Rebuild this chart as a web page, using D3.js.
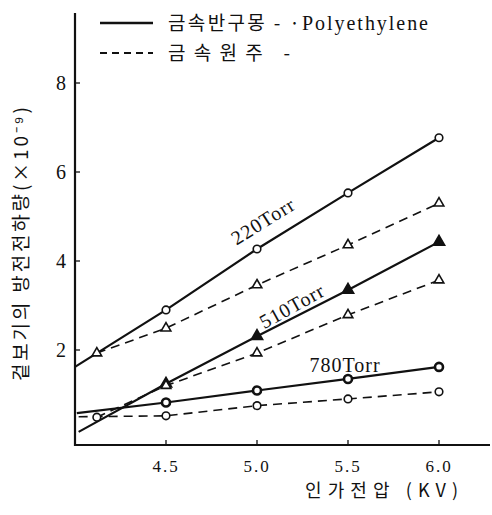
<!DOCTYPE html>
<html>
<head>
<meta charset="utf-8">
<script src="https://cdn.jsdelivr.net/npm/d3@7"></script>
<style>
  body { margin: 0; background: #fff; }
  svg { display: block; }
  text { fill: #111; }
  .num { font-family: "Liberation Serif", "DejaVu Serif", serif; }
  .kr { font-family: "Noto Sans CJK KR", sans-serif; font-weight: 400; }
</style>
</head>
<body>
<div id="chart"></div>
<script>
// applied voltage (KV)
const voltages = [4.5, 5.0, 5.5, 6.0];
const xTicks = [4.5, 5.0, 5.5, 6.0];
const yTicks = [2, 4, 6, 8];

// apparent discharge charge (x10^-9)
const solid220 = [2.9, 4.27, 5.53, 6.77];
const dash220 = [2.49, 3.46, 4.36, 5.30];
const solid510 = [1.24, 2.31, 3.35, 4.43];
const dash510 = [1.2, 1.93, 2.79, 3.57];
const solid780 = [0.82, 1.09, 1.35, 1.62];
const dash780 = [0.52, 0.75, 0.90, 1.06];

// where each fitted line starts at the left, and extra low-voltage points
const startPoints = {
  s220: [4.0, 1.62], d220: [4.12, 1.93],
  s510: [4.02, 0.16], d510: [4.12, 0.49],
  s780: [4.01, 0.58], d780: [4.02, 0.50]
};
const extraPoints = { d220: [[4.12, 1.93]], d780: [[4.12, 0.49]] };

const series = [
  {key: 's220', values: solid220, dash: false, marker: 'circle'},
  {key: 'd220', values: dash220, dash: true, marker: 'triangle'},
  {key: 's510', values: solid510, dash: false, marker: 'triFilled'},
  {key: 'd510', values: dash510, dash: true, marker: 'triangle'},
  {key: 's780', values: solid780, dash: false, marker: 'circleBold'},
  {key: 'd780', values: dash780, dash: true, marker: 'circle'}
];

const width = 492, height = 515;

const svg = d3.select('#chart').append('svg')
    .attr('width', width)
    .attr('height', height);

const x = d3.scaleLinear().domain([4.0, 6.0]).range([75, 439]);
const y = d3.scaleLinear().domain([0, 8]).range([439, 83]);

// axes frame
svg.append('line')
    .attr('x1', 75).attr('x2', 75)
    .attr('y1', 13).attr('y2', 446)
    .attr('stroke', '#111').attr('stroke-width', 2.2);
svg.append('line')
    .attr('x1', 74).attr('x2', 490)
    .attr('y1', 445).attr('y2', 445)
    .attr('stroke', '#111').attr('stroke-width', 2.2);

// inward ticks
svg.selectAll('.ytick')
    .data(yTicks)
  .join('line')
    .attr('class', 'ytick')
    .attr('x1', 75).attr('x2', 80)
    .attr('y1', d => y(d)).attr('y2', d => y(d))
    .attr('stroke', '#111').attr('stroke-width', 1.3);

svg.selectAll('.xtick')
    .data(xTicks)
  .join('line')
    .attr('class', 'xtick')
    .attr('x1', d => x(d)).attr('x2', d => x(d))
    .attr('y1', 445).attr('y2', 440)
    .attr('stroke', '#111').attr('stroke-width', 1.3);

svg.selectAll('.ylab')
    .data(yTicks)
  .join('text')
    .attr('class', 'ylab num')
    .attr('x', 61)
    .attr('y', d => y(d) + 7)
    .attr('text-anchor', 'middle')
    .attr('font-size', 20)
    .text(d => d);

svg.selectAll('.xlab')
    .data(xTicks)
  .join('text')
    .attr('class', 'xlab num')
    .attr('x', d => x(d))
    .attr('y', 472)
    .attr('text-anchor', 'middle')
    .attr('font-size', 17)
    .attr('letter-spacing', 2)
    .text(d => d.toFixed(1));

// axis titles
svg.append('text')
    .attr('class', 'kr')
    .attr('x', 305).attr('y', 497)
    .attr('font-size', 18)
    .attr('textLength', 153)
    .attr('lengthAdjust', 'spacing')
    .text('인가전압 (KV)');

svg.append('text')
    .attr('class', 'kr')
    .attr('transform', 'translate(28,381) rotate(-90)')
    .attr('font-size', 19)
    .attr('textLength', 274)
    .attr('lengthAdjust', 'spacing')
    .text('겉보기의  방전전하량(×10⁻⁹)');

// lines
const line = d3.line()
    .x(d => x(d[0]))
    .y(d => y(d[1]));

series.forEach(s => {
  const pts = [startPoints[s.key]].concat(voltages.map((v, i) => [v, s.values[i]]));
  svg.append('path')
      .datum(pts)
      .attr('d', line)
      .attr('fill', 'none')
      .attr('stroke', '#111')
      .attr('stroke-width', s.dash ? 1.6 : 2.2)
      .attr('stroke-dasharray', s.dash ? '9,6' : null);

  const marks = voltages.map((v, i) => [v, s.values[i]]).concat(extraPoints[s.key] || []);
  const g = svg.append('g');
  marks.forEach(p => {
    const cx = x(p[0]), cy = y(p[1]);
    if (s.marker === 'circle' || s.marker === 'circleBold') {
      g.append('circle')
          .attr('cx', cx).attr('cy', cy)
          .attr('r', s.marker === 'circleBold' ? 4 : 3.8)
          .attr('fill', '#fff')
          .attr('stroke', '#111')
          .attr('stroke-width', s.marker === 'circleBold' ? 2.6 : 1.6);
    } else {
      const sym = d3.symbol().type(d3.symbolTriangle).size(s.marker === 'triFilled' ? 55 : 40);
      g.append('path')
          .attr('transform', `translate(${cx},${cy})`)
          .attr('d', sym())
          .attr('fill', s.marker === 'triFilled' ? '#111' : '#fff')
          .attr('stroke', '#111')
          .attr('stroke-width', 1.6);
    }
  });
});

// pressure labels
const torrLabels = [
  {text: '220Torr', x: 263, y: 221, angle: -32},
  {text: '510Torr', x: 292, y: 306, angle: -29},
  {text: '780Torr', x: 345, y: 365, angle: 0}
];
svg.selectAll('.torr')
    .data(torrLabels)
  .join('text')
    .attr('class', 'torr num')
    .attr('transform', d => `translate(${d.x},${d.y}) rotate(${d.angle})`)
    .attr('text-anchor', 'middle')
    .attr('dy', '0.35em')
    .attr('font-size', 20)
    .attr('letter-spacing', 1)
    .text(d => d.text);

// legend
const legend = svg.append('g');
legend.append('line')
    .attr('x1', 100).attr('x2', 153).attr('y1', 23).attr('y2', 23)
    .attr('stroke', '#111').attr('stroke-width', 2.4);
legend.append('line')
    .attr('x1', 100).attr('x2', 153).attr('y1', 53).attr('y2', 53)
    .attr('stroke', '#111').attr('stroke-width', 2.2)
    .attr('stroke-dasharray', '7,5');
legend.append('text')
    .attr('class', 'kr')
    .attr('x', 168).attr('y', 30)
    .attr('font-size', 19)
    .attr('textLength', 132)
    .attr('lengthAdjust', 'spacing')
    .text('금속반구몽 - ·');
legend.append('text')
    .attr('class', 'num')
    .attr('x', 302).attr('y', 30)
    .attr('font-size', 20)
    .attr('textLength', 126)
    .attr('lengthAdjust', 'spacing')
    .text('Polyethylene');
legend.append('text')
    .attr('class', 'kr')
    .attr('x', 168).attr('y', 60)
    .attr('font-size', 19)
    .attr('textLength', 122)
    .attr('lengthAdjust', 'spacing')
    .text('금속원주   -');
</script>
</body>
</html>
